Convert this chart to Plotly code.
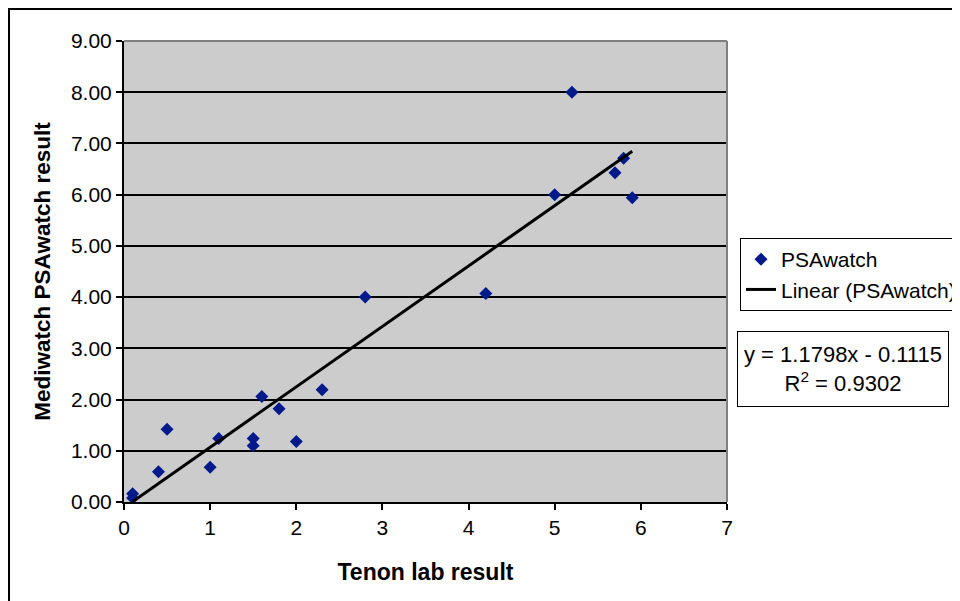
import plotly.graph_objects as go

# Data
tenon = [0.1, 0.1, 0.4, 0.5, 1.0, 1.1, 1.5, 1.5, 1.6, 1.8, 2.0, 2.3, 2.8, 4.2, 5.0, 5.2, 5.7, 5.8, 5.9]
mediwatch = [0.16, 0.08, 0.59, 1.42, 0.68, 1.24, 1.24, 1.10, 2.06, 1.82, 1.18, 2.19, 4.00, 4.07, 6.00, 8.00, 6.43, 6.71, 5.94]
slope = 1.1798
intercept = -0.1115
r2 = 0.9302

x_ticks = [0, 1, 2, 3, 4, 5, 6, 7]
y_ticks = [0, 1, 2, 3, 4, 5, 6, 7, 8, 9]

trend_x = [min(tenon), max(tenon)]
trend_y = [slope * v + intercept for v in trend_x]

FONT = "Liberation Sans, Arial, sans-serif"

fig = go.Figure()
fig.add_trace(go.Scatter(
    x=tenon, y=mediwatch, mode="markers", name="PSAwatch",
    marker=dict(symbol="diamond", size=10, color="#001A8C"),
))
fig.add_trace(go.Scatter(
    x=trend_x, y=trend_y, mode="lines", name="Linear (PSAwatch)",
    line=dict(color="black", width=3),
))

fig.update_layout(
    width=952, height=593,
    margin=dict(l=116, r=233, t=33, b=99, autoexpand=False),
    paper_bgcolor="white",
    plot_bgcolor="#CCCCCC",
    font=dict(family=FONT, size=21, color="black"),
    xaxis=dict(
        range=[0, 7], tickvals=x_ticks, ticktext=[str(v) for v in x_ticks],
        showgrid=False, zeroline=False,
        showline=True, linecolor="black", linewidth=2,
        ticks="outside", ticklen=6, tickcolor="black", tickwidth=1.5,
        tickfont=dict(size=21),
        title=dict(text="<b>Tenon lab result</b>", font=dict(size=23), standoff=26),
        automargin=False,
    ),
    yaxis=dict(
        range=[0, 9], tickvals=y_ticks, ticktext=[f"{v:.2f}" for v in y_ticks],
        showgrid=True, gridcolor="black", gridwidth=1.5,
        zeroline=False,
        showline=True, linecolor="black", linewidth=2,
        ticks="outside", ticklen=6, tickcolor="black", tickwidth=1.5,
        tickfont=dict(size=21),
        title=dict(text="<b>Mediwatch PSAwatch result</b>", font=dict(size=22.5), standoff=14),
        automargin=False,
    ),
    legend=dict(
        x=1.0216, y=0.5727, xanchor="left", yanchor="top",
        bgcolor="white", bordercolor="black", borderwidth=1,
        font=dict(size=21), tracegroupgap=0, itemwidth=30,
    ),
    showlegend=True,
)

# plot area gray top/right border
fig.add_shape(type="line", xref="paper", yref="paper", x0=0, x1=1, y0=1, y1=1,
              line=dict(color="#808080", width=2))
fig.add_shape(type="line", xref="paper", yref="paper", x0=1, x1=1, y0=0, y1=1,
              line=dict(color="#808080", width=2))
# outer chart border
fig.add_shape(type="rect", xref="paper", yref="paper",
              x0=-0.1907, x1=1.5, y0=-0.5, y1=1.0694,
              line=dict(color="black", width=2), layer="below")

fig.add_annotation(
    xref="paper", yref="paper", x=1.1924, y=0.2885,
    xanchor="center", yanchor="middle",
    text=f"y = {slope}x - {abs(intercept)}<br>R<sup>2</sup> = {r2}",
    showarrow=False, align="center", font=dict(size=22),
    bordercolor="black", borderwidth=1, bgcolor="white", borderpad=6,
    height=62,
)

fig.write_html("out.html")
